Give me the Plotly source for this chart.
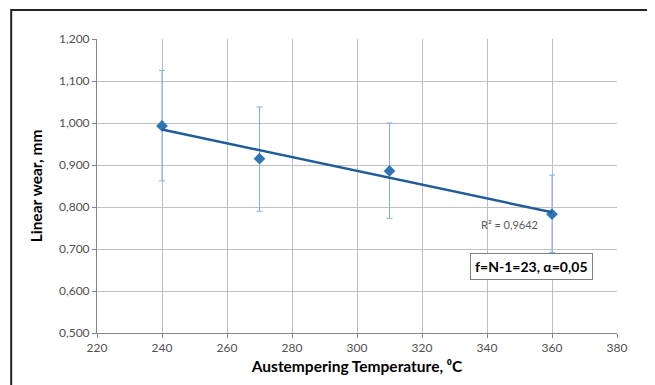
import numpy as np
import plotly.graph_objects as go

temps = [240, 270, 310, 360]
wear = [0.993, 0.915, 0.886, 0.783]
err_plus = [0.132, 0.123, 0.114, 0.093]
err_minus = [0.131, 0.125, 0.113, 0.091]
x_ticks = [220, 240, 260, 280, 300, 320, 340, 360, 380]
y_ticks = [0.5, 0.6, 0.7, 0.8, 0.9, 1.0, 1.1, 1.2]
y_ticktext = ["0,500", "0,600", "0,700", "0,800", "0,900", "1,000", "1,100", "1,200"]
r2_label = "R² = 0,9642"
box_label = "f=N-1=23, α=0,05"

slope, intercept = np.polyfit(temps, wear, 1)
fit_x = [temps[0], temps[-1]]
fit_y = [slope * v + intercept for v in fit_x]

FONT = "Lato"
fig = go.Figure()
fig.add_trace(go.Scatter(
    x=temps, y=wear, mode="markers",
    marker=dict(symbol="diamond", size=9, color="#2E75B6"),
    error_y=dict(type="data", symmetric=False, array=err_plus, arrayminus=err_minus,
                 color="#7DB3E3", thickness=1, width=3),
    showlegend=False))
fig.add_trace(go.Scatter(
    x=fit_x, y=fit_y, mode="lines",
    line=dict(color="#1F5C99", width=2.5), showlegend=False))

fig.update_layout(
    width=647, height=377,
    margin=dict(l=89, r=38, t=31, b=52, autoexpand=False),
    paper_bgcolor="white", plot_bgcolor="white",
    font=dict(family=FONT, size=12, color="#505050"),
    xaxis=dict(range=[220, 380], tickvals=x_ticks, showgrid=True, gridcolor="#B8BEC8",
               gridwidth=1, showline=True, linecolor="#868686", ticks="outside",
               ticklen=4, tickcolor="#868686", zeroline=False, automargin=False,
               title=dict(text="<b>Austempering Temperature, ⁰C</b>",
                          font=dict(size=15.5, color="#000000", family=FONT), standoff=6)),
    yaxis=dict(range=[0.5, 1.2], tickvals=y_ticks, ticktext=y_ticktext, showgrid=True,
               gridcolor="#BFBFBF", gridwidth=1, showline=True, linecolor="#868686",
               ticks="outside", ticklen=4, tickcolor="#868686", zeroline=False,
               automargin=False,
               title=dict(text="<b>Linear wear, mm</b>",
                          font=dict(size=15.5, color="#000000", family=FONT), standoff=12)),
)

fig.add_annotation(x=347, y=0.759, xref="x", yref="y", text=r2_label, showarrow=False,
                   font=dict(size=11, color="#595959", family=FONT))
fig.add_annotation(x=0.835, y=0.659, xref="paper", yref="y", text="<b>" + box_label + "</b>",
                   showarrow=False, font=dict(size=14, color="#000000", family=FONT),
                   bgcolor="white", bordercolor="#808080", borderwidth=1, borderpad=4,
                   xanchor="center")

fig.add_shape(type="rect", xref="paper", yref="paper", x0=-0.165, x1=1.067, y0=-0.3, y1=1.099,
              line=dict(color="#222222", width=2), layer="above")

fig.write_html("out.html")
